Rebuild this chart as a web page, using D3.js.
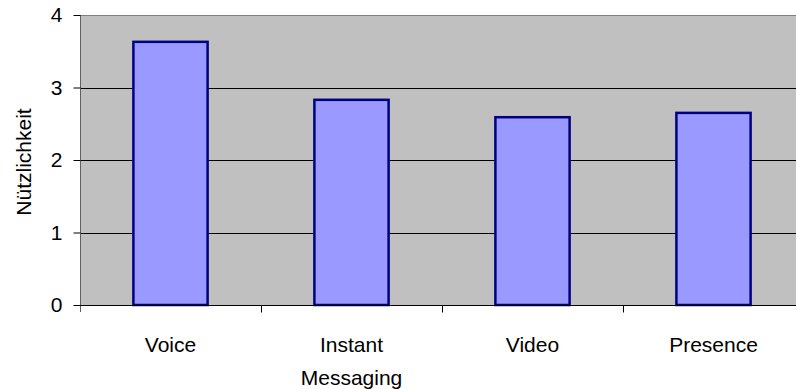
<!DOCTYPE html>
<html>
<head>
<meta charset="utf-8">
<script src="https://cdn.jsdelivr.net/npm/d3@7"></script>
<style>
  body { margin: 0; background: #fff; }
  text { font-family: "Liberation Sans", Arial, sans-serif; fill: #000; }
</style>
</head>
<body>
<div id="column-chart"></div>
<script>
// Data
var categories = [["Voice"], ["Instant", "Messaging"], ["Video"], ["Presence"]];
var values = [3.63, 2.83, 2.59, 2.65];
var yTicks = [0, 1, 2, 3, 4];
var yLabel = "Nützlichkeit";

var width = 796;
var height = 389;
var fontSize = "21px";
var margins = { top: 15, right: -8, bottom: 84, left: 80 };
var chartWidth = width - margins.left - margins.right;
var chartHeight = height - margins.top - margins.bottom;

var svg = d3.select("#column-chart")
  .append("svg")
  .attr("width", width)
  .attr("height", height);

var chartElement = svg.append("g")
  .attr("transform", "translate(" + margins.left + "," + margins.top + ")");

var keys = categories.map(function(d) { return d.join(" "); });

var xSlots = d3.scaleBand()
  .domain(keys)
  .range([0, chartWidth]);

var xScale = d3.scaleBand()
  .domain(keys)
  .range([0, chartWidth])
  .paddingInner(0.59)
  .paddingOuter(0.295);

var yScale = d3.scaleLinear()
  .domain([0, 4])
  .range([chartHeight, 0]);

// Plot background
chartElement.append("rect")
  .attr("x", 0).attr("y", 0)
  .attr("width", chartWidth).attr("height", chartHeight)
  .attr("fill", "#c0c0c0");

// Grid
chartElement.append("g")
  .selectAll("line")
  .data(yTicks.filter(function(d) { return d > 0 && d < 4; }))
  .enter()
  .append("line")
  .attr("x1", 0).attr("x2", chartWidth)
  .attr("y1", function(d) { return Math.round(yScale(d)) + 0.5; })
  .attr("y2", function(d) { return Math.round(yScale(d)) + 0.5; })
  .attr("stroke", "#000")
  .attr("stroke-width", 1);

// Top border
chartElement.append("line")
  .attr("x1", 0).attr("x2", chartWidth)
  .attr("y1", 0.5).attr("y2", 0.5)
  .attr("stroke", "#808080")
  .attr("stroke-width", 1);

// Bars
chartElement.append("g")
  .attr("class", "bars")
  .selectAll("rect")
  .data(values)
  .enter()
  .append("rect")
  .attr("x", function(d, i) { return xScale(keys[i]); })
  .attr("y", function(d) { return yScale(d); })
  .attr("width", xScale.bandwidth())
  .attr("height", function(d) { return yScale(0) - yScale(d); })
  .attr("fill", "#9999ff")
  .attr("stroke", "#000080")
  .attr("stroke-width", 2.5);

// Y axis
var yAxis = d3.axisLeft(yScale)
  .tickValues(yTicks)
  .tickSize(7)
  .tickPadding(11)
  .tickFormat(d3.format("d"));

var yAxisG = chartElement.append("g")
  .attr("class", "y axis")
  .attr("transform", "translate(0.5,0)")
  .call(yAxis);
yAxisG.select(".domain").attr("stroke", "#606060").attr("d", "M0,0V" + (chartHeight + 7));
yAxisG.selectAll(".tick line").attr("stroke", "#000");
yAxisG.selectAll(".tick text")
  .style("font-size", fontSize)
  .attr("font-family", "Liberation Sans, Arial, sans-serif");

// X axis
var xAxis = d3.axisBottom(xSlots)
  .tickSize(0)
  .tickFormat("");

var xAxisG = chartElement.append("g")
  .attr("class", "x axis")
  .attr("transform", "translate(0," + (chartHeight + 0.5) + ")")
  .call(xAxis);
xAxisG.select(".domain").attr("stroke", "#000").attr("d", "M0,0H" + chartWidth);

// Boundary ticks between categories
xAxisG.selectAll(".sep")
  .data(keys.slice(1))
  .enter()
  .append("line")
  .attr("x1", function(d) { return Math.round(xSlots(d)) + 0.5; })
  .attr("x2", function(d) { return Math.round(xSlots(d)) + 0.5; })
  .attr("y1", 0).attr("y2", 7)
  .attr("stroke", "#000");

// Category labels
var labels = chartElement.append("g")
  .selectAll("text")
  .data(categories)
  .enter()
  .append("text")
  .attr("text-anchor", "middle")
  .attr("x", function(d, i) { return xSlots(keys[i]) + xSlots.bandwidth() / 2; })
  .attr("y", chartHeight + 47)
  .style("font-size", fontSize);

labels.selectAll("tspan")
  .data(function(d) { return d; })
  .enter()
  .append("tspan")
  .attr("x", function() { return d3.select(this.parentNode).attr("x"); })
  .attr("dy", function(d, i) { return i === 0 ? 0 : 33; })
  .text(function(d) { return d; });

// Y label
svg.append("text")
  .attr("transform", "translate(31," + (margins.top + chartHeight / 2 + 2) + ") rotate(-90)")
  .attr("text-anchor", "middle")
  .style("font-size", fontSize)
  .text(yLabel);
</script>
</body>
</html>
